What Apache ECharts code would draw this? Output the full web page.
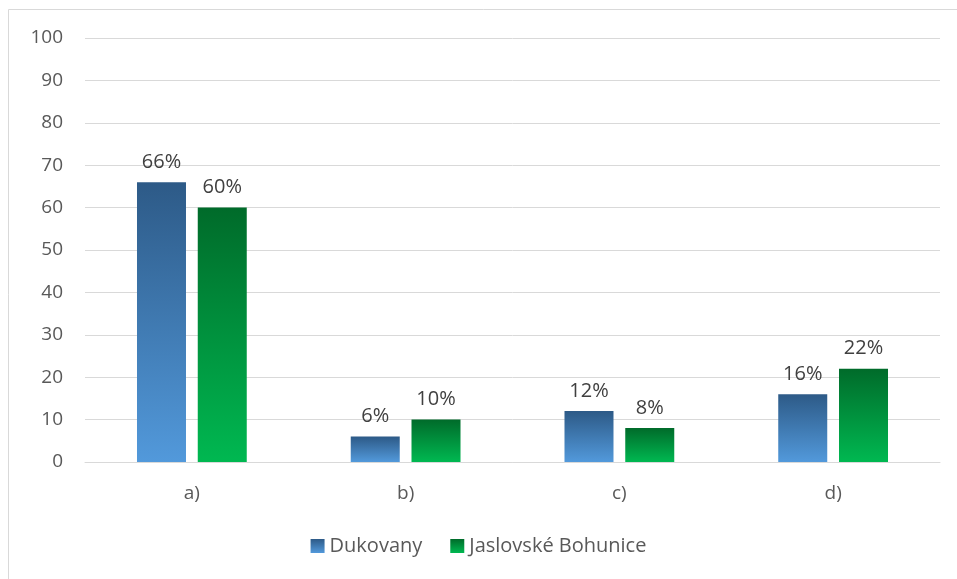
<!DOCTYPE html>
<html>
<head>
<meta charset="utf-8">
<title>Dukovany / Jaslovské Bohunice</title>
<script src="https://cdn.jsdelivr.net/npm/echarts@6/dist/echarts.min.js"></script>
<style>
  * { margin: 0; padding: 0 }
  html, body { width: 100%; height: 100%; background: #fff; }
  #main { width: 957px; height: 579px; }
</style>
</head>
<body>
<div id="main"></div>
<script type="text/javascript">
var categories = ['a)', 'b)', 'c)', 'd)'];
var dukovany = [66, 6, 12, 16];
var bohunice = [60, 10, 8, 22];
var yTicks = { min: 0, max: 100, interval: 10 };

var font = '"Open Sans", "Noto Sans", sans-serif';

function grad(top, bottom) {
  return new echarts.graphic.LinearGradient(0, 0, 0, 1, [
    { offset: 0, color: top },
    { offset: 1, color: bottom }
  ]);
}

var chart = echarts.init(document.getElementById('main'));
chart.setOption({
  animation: false,
  textStyle: { fontFamily: font },
  graphic: [{
    type: 'rect',
    shape: { x: 8.5, y: 9.5, width: 980, height: 600 },
    style: { fill: 'none', stroke: '#d9d9d9', lineWidth: 1 },
    silent: true
  }],
  grid: { left: 85, right: 17, top: 38, bottom: 117 },
  legend: {
    bottom: 18,
    itemWidth: 14,
    itemHeight: 14,
    itemGap: 28,
    icon: 'rect',
    textStyle: { fontFamily: font, fontSize: 20, color: '#595959' },
    data: ['Dukovany', 'Jaslovské Bohunice']
  },
  xAxis: {
    type: 'category',
    data: categories,
    axisLine: { lineStyle: { color: '#d9d9d9', width: 1 } },
    axisTick: { show: false },
    axisLabel: { fontFamily: font, fontSize: 19, color: '#595959', margin: 22 }
  },
  yAxis: {
    type: 'value',
    min: yTicks.min,
    max: yTicks.max,
    interval: yTicks.interval,
    axisLine: { show: false },
    axisTick: { show: false },
    axisLabel: { fontFamily: font, fontSize: 19, color: '#595959', margin: 22 },
    splitLine: { lineStyle: { color: '#d9d9d9', width: 1 } }
  },
  series: [{
    name: 'Dukovany',
    type: 'bar',
    data: dukovany,
    barWidth: 49,
    barGap: '24%',
    itemStyle: { color: grad('#2d5a87', '#5299db') },
    label: {
      show: true, position: 'top', distance: 10, formatter: '{c}%',
      fontFamily: font, fontSize: 20, color: '#404040'
    }
  }, {
    name: 'Jaslovské Bohunice',
    type: 'bar',
    data: bohunice,
    barWidth: 49,
    itemStyle: { color: grad('#006b2a', '#00b851') },
    label: {
      show: true, position: 'top', distance: 10, formatter: '{c}%',
      fontFamily: font, fontSize: 20, color: '#404040'
    }
  }]
});
</script>
</body>
</html>
